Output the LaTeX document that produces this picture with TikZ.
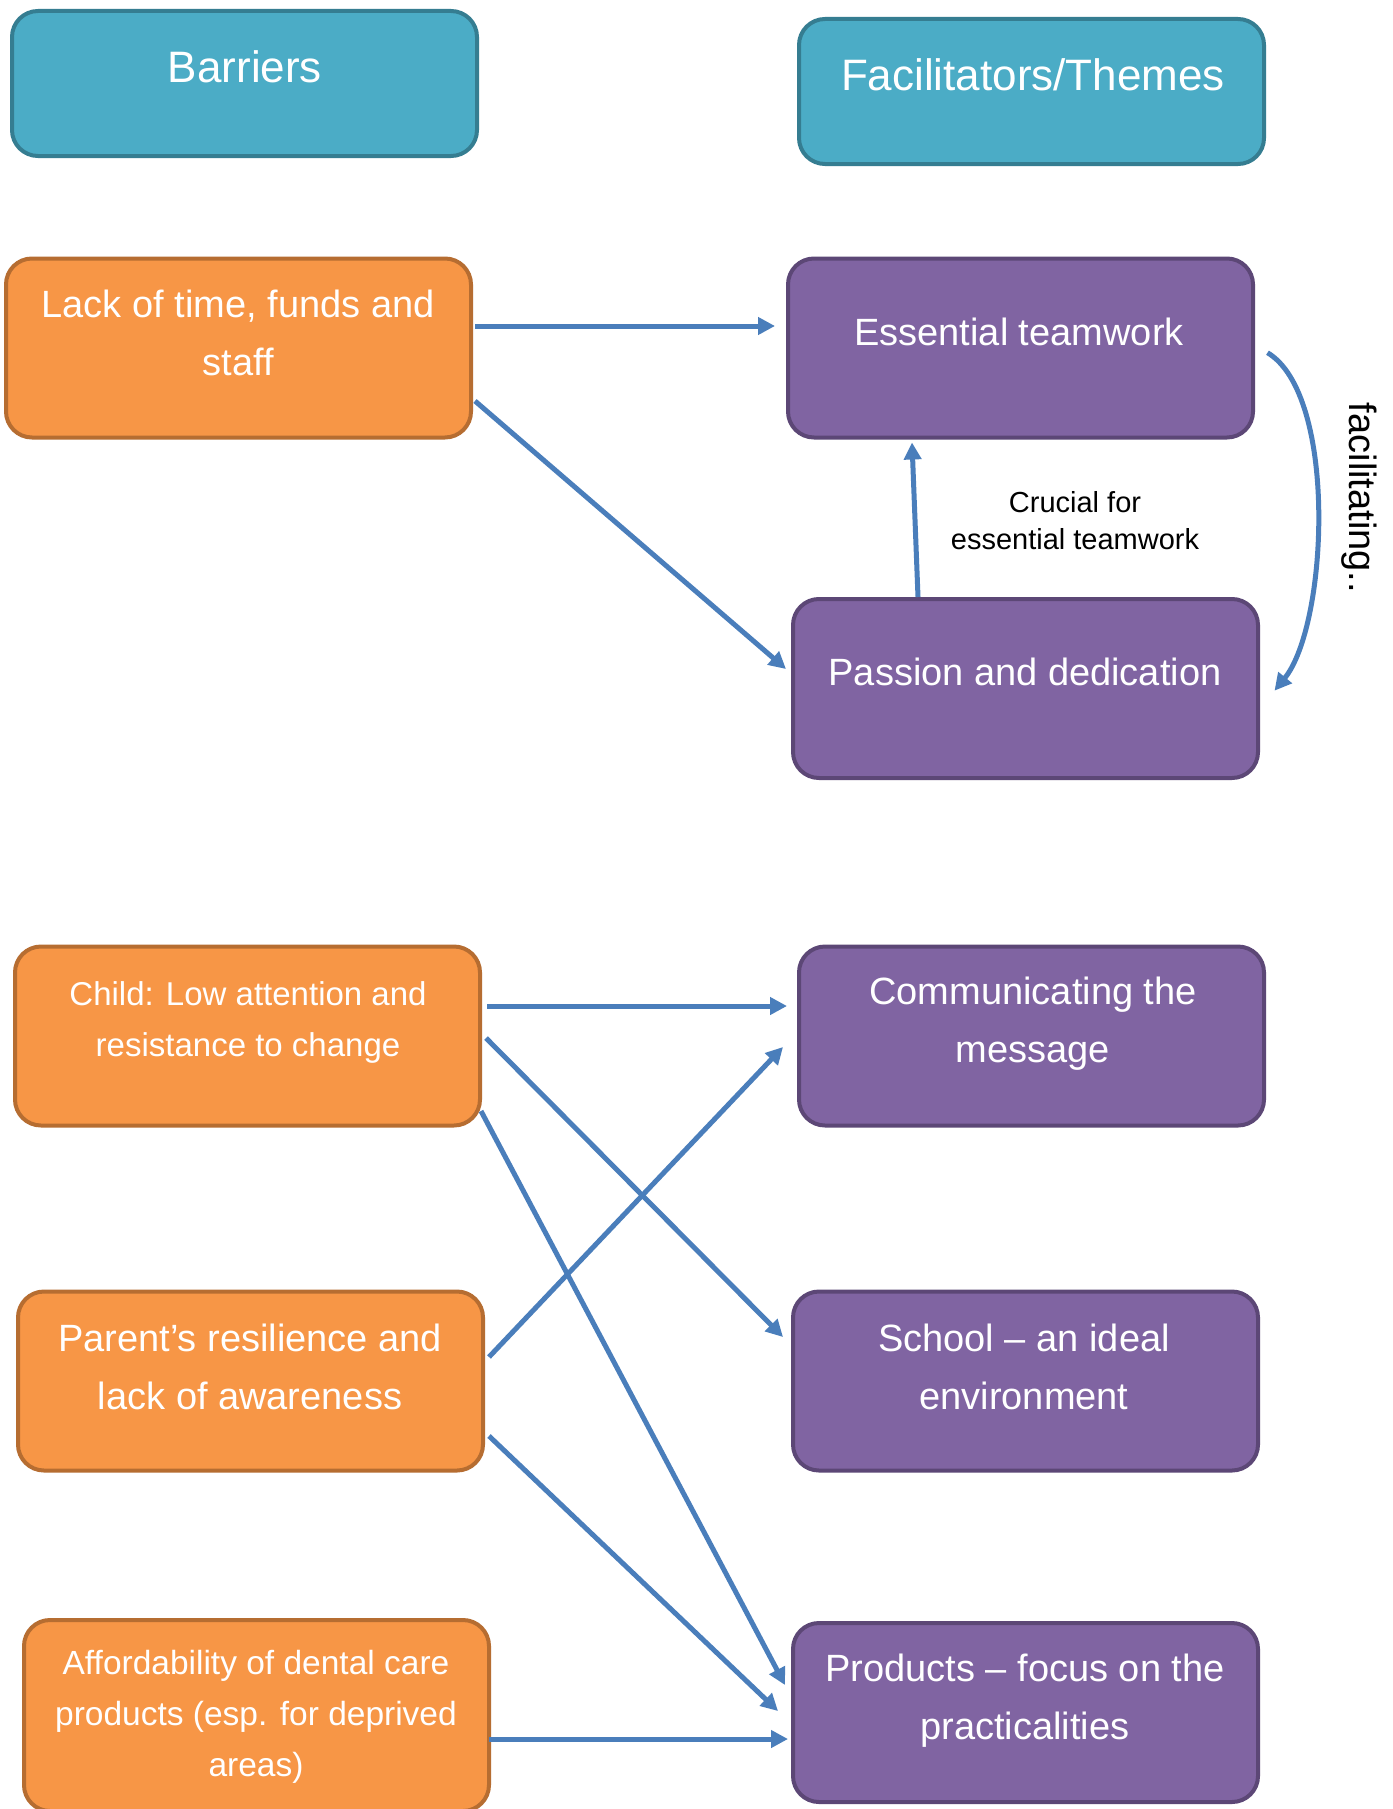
\documentclass[tikz,border=0pt]{standalone}
\usepackage{fontspec}
\setmainfont{Liberation Sans}
\usetikzlibrary{arrows.meta,calc}
\definecolor{tealF}{HTML}{4BACC6}
\definecolor{tealD}{HTML}{357D91}
\definecolor{orgF}{HTML}{F79646}
\definecolor{orgD}{HTML}{B66D31}
\definecolor{purF}{HTML}{8064A2}
\definecolor{purD}{HTML}{5C4776}
\definecolor{arr}{HTML}{4A7EBB}
\begin{document}
\begin{tikzpicture}[x=1pt,y=-1pt,
  box/.style={draw, line width=4pt, rounded corners=26pt, minimum width=465pt, minimum height=179pt, inner sep=0pt},
  hdr/.style={box, fill=tealF, draw=tealD, minimum height=145pt},
  barbox/.style={box, fill=orgF, draw=orgD},
  facbox/.style={box, fill=purF, draw=purD},
  wtxt/.style={text=white, align=center, inner sep=0pt},
  hfont/.style={font=\fontsize{44}{52}\selectfont},
  bfont/.style={font=\fontsize{38}{58}\selectfont},
  sfont/.style={font=\fontsize{33}{51}\selectfont},
  conn/.style={draw=arr, line width=5pt, -{Triangle[length=17pt,width=17pt]}},
]
\useasboundingbox (0,0) rectangle (1392,1809);
\clip (0,0) rectangle (1392,1809);
\fill[white] (0,0) rectangle (1392,1809);

% boxes
\node[hdr] (bar) at (244.5,83.5) {};
\node[hdr] (fac) at (1031.5,91.5) {};
\node[barbox] (lack) at (238.5,348) {};
\node[facbox] (ess) at (1020.5,348) {};
\node[facbox] (pas) at (1025.5,688.5) {};
\node[barbox] (child) at (247.5,1036) {};
\node[facbox] (comm) at (1031.5,1036) {};
\node[barbox] (par) at (250.5,1381) {};
\node[facbox] (sch) at (1025.5,1381) {};
\node[barbox, minimum height=191pt] (aff) at (256.5,1715.5) {};
\node[facbox] (prod) at (1025.5,1712.5) {};

% texts
\node[wtxt,hfont] (barT) at (245,67) {Barriers};
\node[wtxt,hfont] (facT) at (1033,75) {Facilitators/Themes};
\node[wtxt,bfont] (lackT) at (238,333) {Lack of time, funds and\\staff};
\node[wtxt,bfont] (essT) at (1019,332) {Essential teamwork};
\node[wtxt,bfont] (pasT) at (1025,672) {Passion and dedication};
\node[wtxt,sfont] (childT) at (248,1022) {Child: Low attention and\\resistance to change};
\node[wtxt,bfont] (commT) at (1033,1023.5) {Communicating the\\message};
\node[wtxt,bfont] (parT) at (250,1367) {Parent's resilience and\\lack of awareness};
\node[wtxt,bfont] (schT) at (1024,1367) {School -- an ideal\\environment};
\node[wtxt,font=\fontsize{33.5}{51}\selectfont] (affT) at (256,1716.5) {Affordability of dental care\\products (esp. for deprived\\areas)};
\node[wtxt,bfont] (prodT) at (1025,1701) {Products -- focus on the\\practicalities};
\node[align=center, inner sep=0pt, font=\fontsize{29}{37}\selectfont] (cruc) at (1075,521) {Crucial for\\essential teamwork};
\node[inner sep=0pt, rotate=-90, font=\fontsize{38}{44}\selectfont] (facil) at (1359,498) {facilitating..};

% connectors
\draw[conn] ($(lack.east)+(2,-22)$) -- ($(ess.west)+(-11,-22)$);
\draw[conn] ($(lack.east)+(2,53)$) -- ($(pas.west)+(-5,-19.5)$);
\draw[conn] ($(pas.north)+(-107.5,0)$) -- ($(ess.south)+(-108.5,3)$);
\draw[conn] ($(ess.east)+(12.5,4.7)$) .. controls (1338,395) and (1328,625) .. ($(pas.east)+(14.5,2.2)$);
\draw[conn] ($(child.east)+(5,-30)$) -- ($(comm.west)+(-10,-30)$);
\draw[conn] ($(child.east)+(4,2)$) -- ($(sch.west)+(-8,-44)$);
\draw[conn] ($(child.east)+(-1,75)$) -- ($(prod.west)+(-6,-27.5)$);
\draw[conn] ($(par.east)+(4,-24)$) -- ($(comm.west)+(-14,11)$);
\draw[conn] ($(par.east)+(4,55)$) -- ($(prod.west)+(-13,-1.5)$);
\draw[conn] ($(aff.east)+(-2,23.5)$) -- ($(prod.west)+(-3,26.5)$);
\end{tikzpicture}
\end{document}
